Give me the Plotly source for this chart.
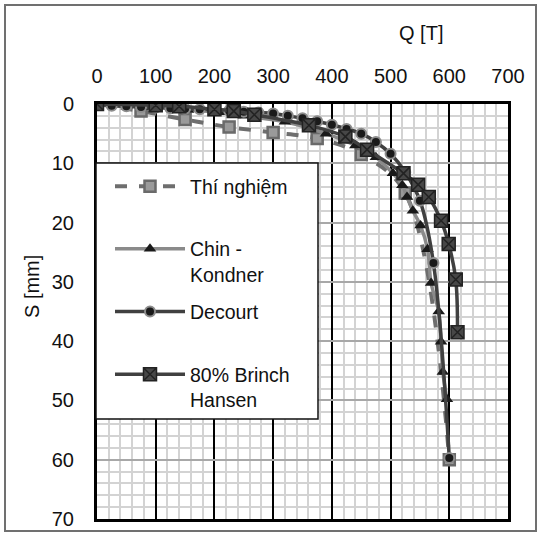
import plotly.graph_objects as go

# ---- data ----
x_ticks = [0, 100, 200, 300, 400, 500, 600, 700]
y_ticks = [0, 10, 20, 30, 40, 50, 60, 70]

NB = "\u00a0"
test_name = "Thí nghiệm<br>" + NB
test_q = [0, 75, 150, 225, 300, 375, 450, 525, 600]
test_s = [0, 1.2, 2.6, 3.9, 4.8, 5.8, 8.5, 15.0, 60.0]

chin_name = "Chin -<br>Kondner"
chin_q = [0, 90, 155, 210, 250, 320, 390, 440, 475, 504, 520, 528, 538, 551, 563, 569, 582, 586, 589, 596]
chin_s = [0, 0.5, 1.0, 1.4, 2.0, 3.0, 5.0, 7.0, 9.0, 11.7, 13.7, 15.7, 18.0, 20.5, 24.5, 30.2, 35.0, 40.1, 45.2, 49.8]

dec_name = "Decourt<br>" + NB
dec_q = [0, 25, 50, 75, 100, 125, 150, 175, 200, 225, 250, 275, 300, 325, 350, 375, 400, 425, 450, 475, 500, 525, 550, 573, 600]
dec_s = [0, 0.3, 0.4, 0.5, 0.6, 0.7, 0.8, 0.9, 1.0, 1.15, 1.3, 1.45, 1.6, 2.0, 2.4, 2.9, 3.5, 4.2, 5.0, 6.4, 8.4, 11.5, 16.3, 26.8, 59.7]

bh_name = "80% Brinch<br>Hansen"
bh_q = [0, 100, 140, 200, 233, 268, 361, 423, 460, 522, 547, 565, 586, 599, 611, 614]
bh_s = [0, 0.2, 0.4, 0.9, 1.2, 1.8, 3.6, 5.5, 7.7, 11.7, 13.6, 15.7, 19.7, 23.6, 29.6, 38.5]

FONT = "Liberation Sans, Arial, sans-serif"
TXT = "#111111"

# plot area in pixels
L, R, T, B = 97, 508, 104, 519
W, H = 541, 536
PW, PH = R - L, B - T


def px(xp):
    return (xp - L) / PW


def py(yp):
    return (B - yp) / PH


fig = go.Figure()

fig.add_trace(go.Scatter(
    x=test_q, y=test_s, name=test_name, legendgroup="a", mode="lines+markers",
    line=dict(color="#6e6e6e", width=4, dash="dash", shape="spline"),
    marker=dict(symbol="square", size=11, color="#9a9a9a", line=dict(color="#6a6a6a", width=2.5)),
))
fig.add_trace(go.Scatter(
    x=chin_q, y=chin_s, name=chin_name, legendgroup="b", mode="lines+markers",
    line=dict(color="#8a8a8a", width=3.5, shape="spline"),
    marker=dict(symbol="triangle-up", size=11, color="#1a1a1a"),
))
fig.add_trace(go.Scatter(
    x=dec_q, y=dec_s, name=dec_name, legendgroup="c", mode="lines+markers",
    line=dict(color="#404040", width=3.5, shape="spline"),
    marker=dict(symbol="circle", size=10, color="#1a1a1a", line=dict(color="#8c8c8c", width=2)),
))
fig.add_trace(go.Scatter(
    x=bh_q, y=bh_s, name=bh_name, legendgroup="d", mode="lines+markers",
    line=dict(color="#404040", width=3.5, shape="spline"),
    marker=dict(symbol="square-x", size=13, color="#474747", line=dict(color="#222222", width=1.5)),
))

fig.update_layout(
    width=W, height=H,
    margin=dict(l=L, r=W - R, t=T, b=H - B, autoexpand=False),
    paper_bgcolor="white", plot_bgcolor="white",
    font=dict(family=FONT, size=20, color=TXT),
    showlegend=True,
    legend=dict(
        x=px(110), y=py(167), xanchor="left", yanchor="top",
        bgcolor="rgba(0,0,0,0)", borderwidth=0,
        font=dict(family=FONT, size=19.5, color=TXT),
        traceorder="grouped", tracegroupgap=9, valign="top",
        itemwidth=70,
    ),
    xaxis=dict(
        side="top", range=[0, 700], tickvals=x_ticks, ticktext=[str(v) for v in x_ticks],
        showgrid=True, gridcolor="#000000", gridwidth=1.5,
        minor=dict(dtick=20, showgrid=True, gridcolor="#d3d3d3", gridwidth=1.5),
        showline=True, linecolor="#000000", linewidth=3, mirror=True,
        ticks="", ticklabelstandoff=10, zeroline=False,
        tickfont=dict(family=FONT, size=20, color=TXT),
    ),
    yaxis=dict(
        range=[70, 0], tickvals=y_ticks, ticktext=[str(v) for v in y_ticks],
        showgrid=True, gridcolor="#a8a8a8", gridwidth=2,
        minor=dict(dtick=2, showgrid=True, gridcolor="#d3d3d3", gridwidth=1.5),
        showline=True, linecolor="#000000", linewidth=3, mirror=True,
        ticks="", ticklabelstandoff=16, zeroline=False,
        tickfont=dict(family=FONT, size=20, color=TXT),
    ),
    shapes=[
        dict(type="rect", xref="paper", yref="paper",
             x0=px(5), x1=px(536), y0=py(531), y1=py(5),
             line=dict(color="#707070", width=2), fillcolor="rgba(0,0,0,0)", layer="below"),
        dict(type="rect", xref="paper", yref="paper",
             x0=px(96), x1=px(318), y0=py(419), y1=py(163),
             line=dict(color="#111111", width=1.5), fillcolor="white", layer="above"),
    ],
    annotations=[
        dict(text="Q [T]", x=px(421), y=py(33), xref="paper", yref="paper",
             xanchor="center", yanchor="middle",
             showarrow=False, font=dict(family=FONT, size=20, color=TXT)),
        dict(text="S [mm]", x=px(32), y=py(287), xref="paper", yref="paper",
             xanchor="center", yanchor="middle",
             showarrow=False, textangle=-90, font=dict(family=FONT, size=20, color=TXT)),
    ],
)

fig.write_html("out.html", config={"displayModeBar": False},
               post_script="document.body.style.margin='0px';")
